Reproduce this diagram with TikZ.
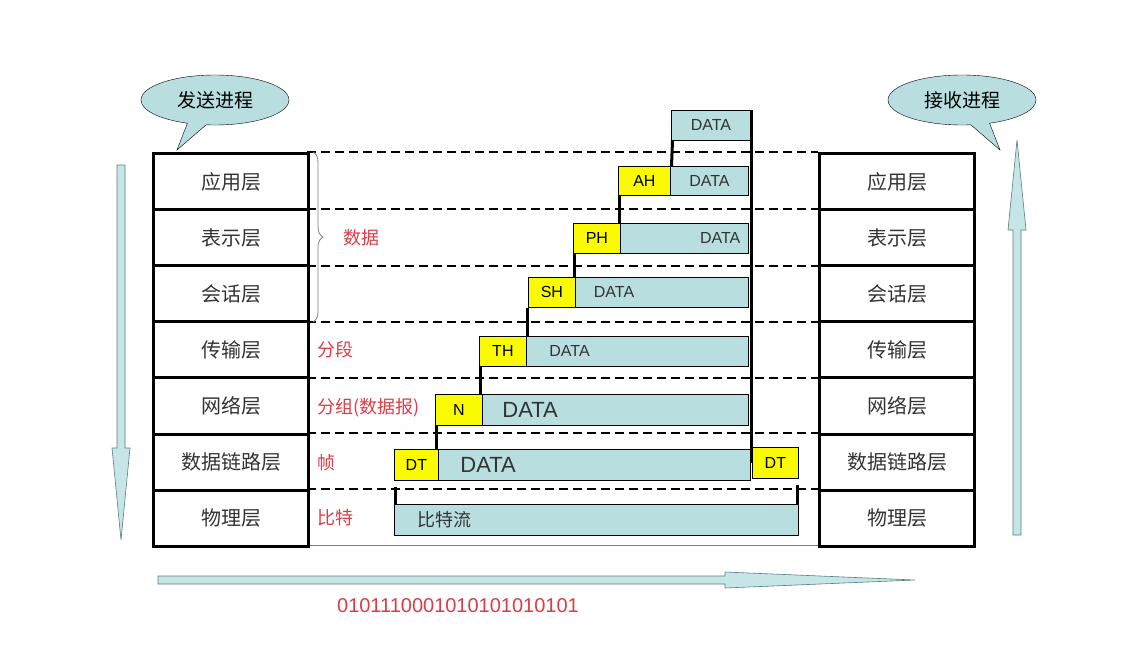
\documentclass[tikz,border=0pt]{standalone}
\usepackage{fontspec}
\setmainfont{Liberation Sans}
\newfontfamily\cjk{Noto Sans CJK SC}
\usetikzlibrary{shapes.callouts,decorations.pathreplacing,arrows.meta,calc}
\definecolor{tealbg}{RGB}{184,222,224}
\definecolor{redt}{RGB}{220,60,70}
\definecolor{yel}{RGB}{250,250,0}
\begin{document}
\begin{tikzpicture}[x=1pt,y=-1pt,
 layer/.style={draw,line width=3pt,minimum width=155pt,inner sep=0,font=\cjk\fontsize{20}{20}\selectfont,text=black!80},
 hdr/.style={draw,fill=yel,line width=0.8pt,inner sep=0,anchor=north west,font=\fontsize{16}{16}\selectfont},
 dat/.style={draw,fill=tealbg,line width=0.8pt,inner sep=0,anchor=north west,font=\fontsize{16}{16}\selectfont,text=black!80},
 lab/.style={text=redt,font=\cjk\fontsize{18}{18}\selectfont,anchor=west},
 conn/.style={line width=3pt},
 dsh/.style={line width=1.5pt,dash pattern=on 9pt off 5pt}]
\useasboundingbox (0,0) rectangle (1125,649);
\fill[white] (0,0) rectangle (1125,649);
% dashed lines
\foreach \y in {152,209,266,322,378,433,489}{\draw[dsh] (307,\y) -- (818,\y);}
\draw[gray,line width=0.8pt] (307,545) -- (818,545);
% layers
\foreach \n [count=\i from 0] in {应用层,表示层,会话层,传输层,网络层,数据链路层,物理层}{
 \pgfmathsetmacro\yt{152+\i*56.1}
 \node[layer,minimum height=56.1pt,anchor=north west] (L\i) at (152,\yt) {\n};
 \node[layer,minimum height=56.1pt,anchor=north west] (R\i) at (818,\yt) {\n};
}
% callouts
\node[ellipse callout,draw,fill=tealbg,minimum width=148pt,minimum height=50pt,callout absolute pointer={(177,150)},font=\cjk\fontsize{19}{19}\selectfont] (sb) at (215,100) {发送进程};
\node[ellipse callout,draw,fill=tealbg,minimum width=148pt,minimum height=50pt,callout absolute pointer={(1000,150)},font=\cjk\fontsize{19}{19}\selectfont] (rb) at (962,100) {接收进程};
% big arrows
\tikzset{bigarrow/.style={draw=gray!70!teal,fill=tealbg!80,line width=0.6pt}}
\draw[bigarrow] (117,165) -- (125,165) -- (125,448) -- (130,448) -- (121,540) -- (112,448) -- (117,448) -- cycle;
\draw[bigarrow] (1013,535) -- (1021,535) -- (1021,230) -- (1026,230) -- (1017,140) -- (1008,230) -- (1013,230) -- cycle;
\draw[bigarrow] (158,576) -- (725,576) -- (725,572) -- (915,580) -- (725,588) -- (725,584) -- (158,584) -- cycle;
\node[text=redt,font=\fontsize{20}{20}\selectfont] (bits) at (458,606) {0101110001010101010101};
% labels
\draw[gray,line width=0.8pt,decorate,decoration={brace,amplitude=10pt}] (313,152) -- (313,322);
\node[lab] (ls) at (340,238) {数据};
\node[lab] (lt) at (314,350) {分段};
\node[lab] (ln) at (314,408) {分组(数据报)};
\node[lab] (ld) at (314,463) {帧};
\node[lab] (lp) at (314,518) {比特};
% packets
\node[dat,minimum width=79pt,minimum height=30pt] (d0) at (671,110) {DATA};
\node[hdr,minimum width=52pt,minimum height=29pt] (ah) at (618,166) {AH};
\node[dat,minimum width=78pt,minimum height=29pt] (d1) at (670,166) {DATA};
\node[hdr,minimum width=47pt,minimum height=30pt] (ph) at (573,223) {PH};
\node[dat,minimum width=128pt,minimum height=30pt,text width=112pt,align=right] (d2) at (620,223) {DATA};
\node[hdr,minimum width=47pt,minimum height=30pt] (sh) at (528,277) {SH};
\node[dat,minimum width=173pt,minimum height=30pt,text width=160pt,align=left] (d3) at (575,277) {\hspace*{12pt}DATA};
\node[hdr,minimum width=47pt,minimum height=30pt] (th) at (479,336) {TH};
\node[dat,minimum width=222pt,minimum height=30pt,text width=200pt,align=left] (d4) at (526,336) {\hspace*{12pt}DATA};
\node[hdr,minimum width=47pt,minimum height=31pt] (nh) at (435,394) {N};
\node[dat,minimum width=266pt,minimum height=31pt,text width=250pt,align=left,font=\fontsize{22}{22}\selectfont] (d5) at (482,394) {\hspace*{12pt}DATA};
\node[hdr,minimum width=44pt,minimum height=31pt] (dt1) at (394,449) {DT};
\node[dat,minimum width=312pt,minimum height=31pt,text width=300pt,align=left,font=\fontsize{22}{22}\selectfont] (d6) at (438,449) {\hspace*{16pt}DATA};
\node[hdr,minimum width=46pt,minimum height=31pt] (dt2) at (752,447) {DT};
\node[dat,minimum width=404pt,minimum height=31pt,text width=390pt,align=left,font=\cjk\fontsize{18}{18}\selectfont] (bs) at (394,504) {\hspace*{16pt}比特流};
% connectors
\coordinate (vt) at (751,110); \coordinate (vb) at (751,463);
\draw[conn] (vt) -- (vb);
\draw[conn] ($(d0.south west)+(1.5,0)$) -- ($(d1.north west)+(1.5,0)$);
\draw[conn] ($(ah.south west)+(1.5,0)$) -- ($(ah.south west |- ph.north)+(1.5,0)$);
\draw[conn] ($(ph.south west)+(1.5,0)$) -- ($(ph.south west |- sh.north)+(1.5,0)$);
\draw[conn] ($(sh.south west)+(-1,0)$) -- ($(sh.south west |- th.north)+(-1,0)$);
\draw[conn] ($(th.south west)+(1.5,0)$) -- ($(th.south west |- nh.north)+(1.5,0)$);
\draw[conn] ($(nh.south west)+(1.5,0)$) -- ($(nh.south west |- dt1.north)+(1.5,0)$);
\draw[conn] ($(dt1.south west)+(1.5,6)$) -- ($(dt1.south west |- bs.north)+(1.5,0)$);
\draw[conn] ($(dt2.south east)+(-1.5,6)$) -- ($(dt2.south east |- bs.north)+(-1.5,0)$);
\end{tikzpicture}
\end{document}
